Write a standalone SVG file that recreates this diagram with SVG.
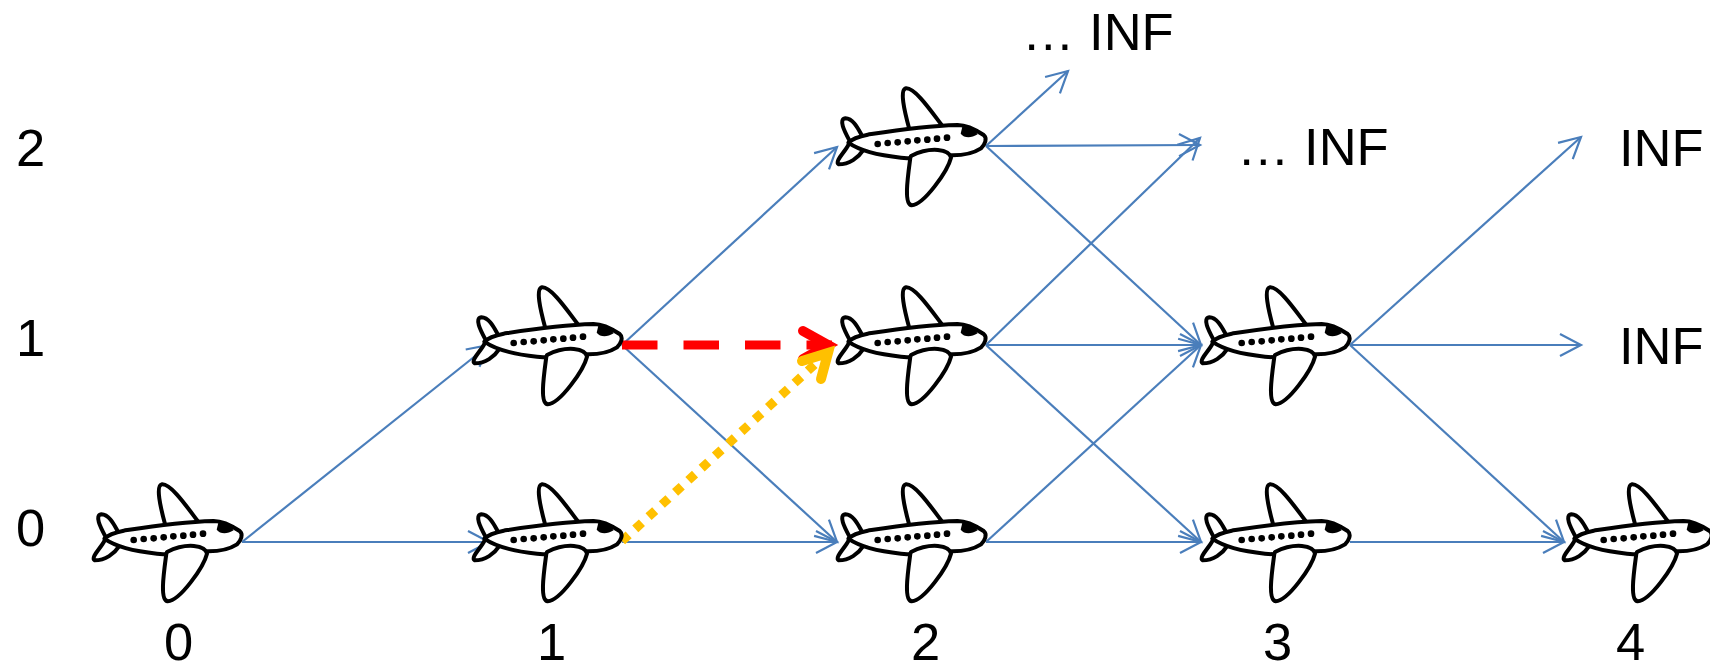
<svg xmlns="http://www.w3.org/2000/svg" width="1710" height="662" viewBox="0 0 1710 662">
<style>
text{font-family:"Liberation Sans",Arial,sans-serif;font-size:52.5px;fill:#000}
.e{fill:none;stroke:#4a7ebb;stroke-width:2.2}
.p path{fill:#fff;stroke:#000;stroke-width:12;stroke-linejoin:round;stroke-linecap:round}
.p circle,.p .c{fill:#000;stroke:none}
</style>
<defs>
<marker id="a" markerUnits="userSpaceOnUse" markerWidth="26" markerHeight="26" refX="23" refY="13" orient="auto"><path d="M2 2L23 13L2 24" fill="none" stroke="#4a7ebb" stroke-width="2.2"/></marker>
<g id="plane" class="p" transform="scale(.3333) translate(-485,-215)">
<path d="M255 165C240 110 225 45 245 42C272 40 320 110 352 152"/>
<path d="M75 198C60 170 42 135 63 132C88 133 102 165 114 186"/>
<path d="M72 212C60 235 30 262 43 270C75 270 102 250 116 228"/>
<path d="M72 205C85 192 105 186 130 181C200 170 290 155 400 152C430 152 460 170 478 182C490 192 482 210 470 222C445 238 415 243 385 243C340 250 270 255 230 250C180 245 110 232 72 205Z"/>
<path d="M258 250C250 310 238 390 262 393C300 390 370 290 380 250C375 225 320 215 260 245Z"/>
<path class="c" d="M415 153C432 150 450 165 460 180C440 192 420 192 409 178Z"/>
<circle cx="160" cy="209" r="10"/><circle cx="190" cy="206" r="10"/><circle cx="220" cy="204" r="10"/><circle cx="250" cy="201" r="10"/><circle cx="279" cy="198" r="10"/><circle cx="309" cy="196" r="10"/><circle cx="338" cy="193" r="10"/><circle cx="368" cy="190" r="10"/>
</g>
</defs>
<g id="connectors">
<g class="e">
<path marker-end="url(#a)" d="M242 542L489 345"/>
<path marker-end="url(#a)" d="M242 542L489 542"/>
<path marker-end="url(#a)" d="M622 345L837 147"/>
<path marker-end="url(#a)" d="M622 345L837 542"/>
<path marker-end="url(#a)" d="M622 542L837 542"/>
<path marker-end="url(#a)" d="M986 146L1068 71"/>
<path marker-end="url(#a)" d="M986 146L1200 145"/>
<path marker-end="url(#a)" d="M986 146L1201 345"/>
<path marker-end="url(#a)" d="M986 345L1200 138"/>
<path marker-end="url(#a)" d="M986 345L1201 345"/>
<path marker-end="url(#a)" d="M986 345L1201 542"/>
<path marker-end="url(#a)" d="M986 542L1201 345"/>
<path marker-end="url(#a)" d="M986 542L1201 542"/>
<path marker-end="url(#a)" d="M1350 345L1581 137"/>
<path marker-end="url(#a)" d="M1350 345L1581 345"/>
<path marker-end="url(#a)" d="M1350 345L1564 542"/>
<path marker-end="url(#a)" d="M1350 542L1564 542"/>
</g>
<path d="M622 345H832" fill="none" stroke="#f00" stroke-width="9" stroke-dasharray="35.5 26"/>
<path d="M803 331L828 345L803 359" fill="none" stroke="#f00" stroke-width="10" stroke-linecap="round" stroke-linejoin="miter"/>
<path d="M622 541L824 356" fill="none" stroke="#ffc000" stroke-width="9" stroke-dasharray="9 9"/>
<path d="M802 361L828 353L821 379" fill="none" stroke="#ffc000" stroke-width="10" stroke-linecap="round" stroke-linejoin="miter"/>
</g>
<g id="n00"><use href="#plane" x="242" y="542"/></g>
<g id="n10"><use href="#plane" x="622" y="542"/></g>
<g id="n11"><use href="#plane" x="622" y="345"/></g>
<g id="n20"><use href="#plane" x="986" y="542"/></g>
<g id="n21"><use href="#plane" x="986" y="345"/></g>
<g id="n22"><use href="#plane" x="986" y="146"/></g>
<g id="n30"><use href="#plane" x="1350" y="542"/></g>
<g id="n31"><use href="#plane" x="1350" y="345"/></g>
<g id="n40"><use href="#plane" x="1712" y="542"/></g>
<g id="labels">
<text x="1022" y="50">… INF</text>
<text x="1237" y="165">… INF</text>
<text x="1619" y="166">INF</text>
<text x="1619" y="364">INF</text>
<text x="16" y="166">2</text>
<text x="16" y="356">1</text>
<text x="16" y="546">0</text>
<text x="164" y="660">0</text>
<text x="537" y="660">1</text>
<text x="911" y="660">2</text>
<text x="1263" y="660">3</text>
<text x="1616" y="660">4</text>
</g>
</svg>
